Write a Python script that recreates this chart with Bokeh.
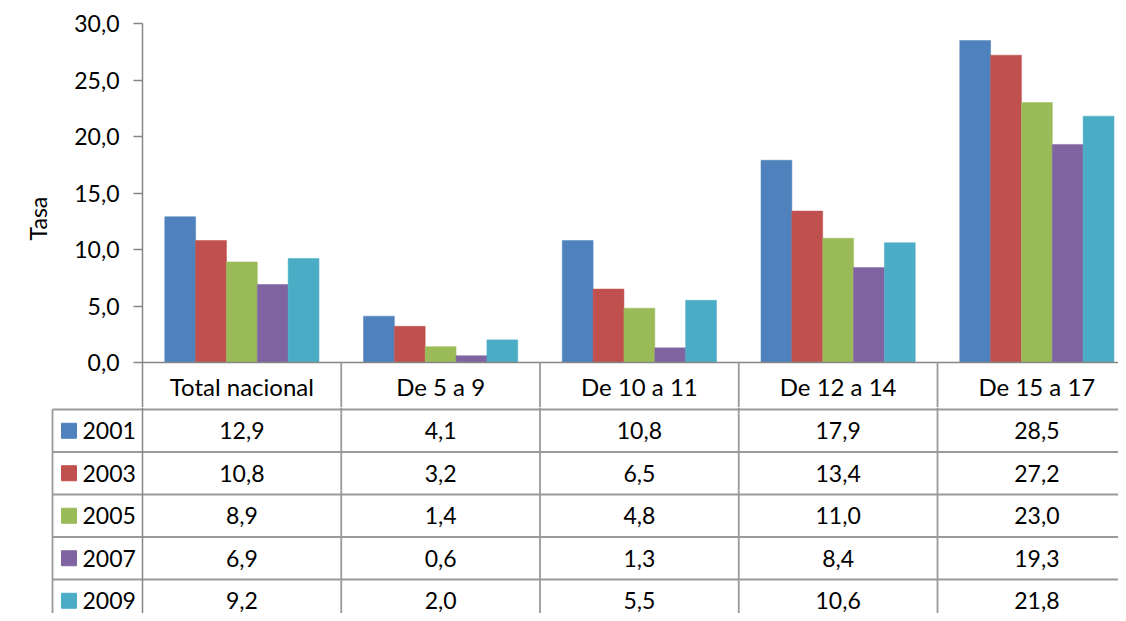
import numpy as np
from bokeh.plotting import figure
from bokeh.models import Range1d, FixedTicker, CustomJSTickFormatter, Title
from bokeh.layouts import column
from bokeh.core.properties import value
from bokeh.embed import file_html
from bokeh.resources import INLINE

categories = ["Total nacional", "De 5 a 9", "De 10 a 11", "De 12 a 14", "De 15 a 17"]
years = ["2001", "2003", "2005", "2007", "2009"]
v2001 = [12.9, 4.1, 10.8, 17.9, 28.5]
v2003 = [10.8, 3.2, 6.5, 13.4, 27.2]
v2005 = [8.9, 1.4, 4.8, 11.0, 23.0]
v2007 = [6.9, 0.6, 1.3, 8.4, 19.3]
v2009 = [9.2, 2.0, 5.5, 10.6, 21.8]
series = [v2001, v2003, v2005, v2007, v2009]
colors = ["#4F81BD", "#C0504D", "#9BBB59", "#8064A2", "#4BACC6"]
y_ticks = [0, 5, 10, 15, 20, 25, 30]

FONT = "Lato"
FS = "23px"
FS_HDR = "24px"
W, H = 1118, 613
LEFT_PX = 142          # frame left (px)
TOP_PX = 23            # frame top (px)
ZERO_PX = 362          # y of value 0 (px)
HDR = 47               # header row height (px)
ROW = 42.5             # data row height (px)
EXT_PX = HDR - 2       # top figure extends this far below zero (holds the header row)
CAT_PX = 198.75        # width of one category (px)
X_END = (W - LEFT_PX) / CAT_PX
PX = 30 / (ZERO_PX - TOP_PX)   # data units per px
GRID = "#9a9a9a"
AXIS = "#868686"
LW = 1.8

H1 = ZERO_PX + EXT_PX
H2 = H - H1

# ---------------- top: bar chart + header row ----------------
p = figure(width=W, height=H1, x_range=Range1d(0, X_END), y_range=Range1d(-EXT_PX * PX, 30),
           x_axis_type=None, output_backend="svg", toolbar_location=None, frame_align=False,
           min_border_left=LEFT_PX, min_border_right=0, min_border_top=TOP_PX, min_border_bottom=0)
p.outline_line_color = None
p.grid.visible = False

ncat = len(categories)
nser = len(series)
pad = 0.112
bw = (1 - 2 * pad) / nser
idx = np.arange(ncat)
for k, (vals, col) in enumerate(zip(series, colors)):
    xs = idx + pad + (k + 0.5) * bw
    p.vbar(x=xs, top=vals, width=bw, bottom=0, fill_color=col, line_color=col, line_width=0.5)

# x axis line and header separators
p.segment(x0=[0], y0=[0], x1=[X_END], y1=[0], line_color=AXIS, line_width=1.5)
vx = list(range(1, ncat + 1))
p.segment(x0=vx, y0=[0] * len(vx), x1=vx, y1=[-EXT_PX * PX] * len(vx), line_color=GRID, line_width=LW)

# header labels
p.text(x=idx + 0.5, y=[-(HDR / 2) * PX] * ncat, text=categories, text_font=value(FONT),
       text_font_size=FS_HDR, text_align="center", text_baseline="middle", text_color="black")

ya = p.yaxis[0]
ya.ticker = FixedTicker(ticks=y_ticks)
ya.formatter = CustomJSTickFormatter(code="return tick.toFixed(1).replace('.', ',');")
ya.major_label_text_font = FONT
ya.major_label_text_font_size = FS
ya.major_label_text_color = "black"
ya.major_label_standoff = 14
ya.axis_line_color = AXIS
ya.axis_line_width = 1.5
ya.major_tick_line_color = AXIS
ya.major_tick_line_width = 1.5
ya.major_tick_out = 9
ya.major_tick_in = 0
ya.minor_tick_line_color = None

p.add_layout(Title(text="Tasa", align="left", offset=H1 - 240, standoff=40,
                   text_font=FONT, text_font_size=FS, text_font_style="normal", text_color="black"),
             "left")

# ---------------- bottom: data rows ----------------
LEG_LEFT = (52 - LEFT_PX) / CAT_PX
t = figure(width=W, height=H2, x_range=Range1d(-LEFT_PX / CAT_PX, X_END),
           y_range=Range1d(-(H - ZERO_PX), -EXT_PX),
           x_axis_type=None, y_axis_type=None, output_backend="svg", toolbar_location=None,
           frame_align=False, min_border_left=0, min_border_right=0, min_border_top=0, min_border_bottom=0)
t.outline_line_color = None
t.grid.visible = False
top = -EXT_PX
bottom = -(H - ZERO_PX) - 5

# horizontal row lines
row_tops = [-(HDR + r * ROW) for r in range(nser + 1)]
t.segment(x0=[LEG_LEFT] * len(row_tops), y0=row_tops, x1=[X_END] * len(row_tops), y1=row_tops,
          line_color=GRID, line_width=LW)
# vertical lines (y axis continuation + category separators)
t.segment(x0=[0], y0=[top], x1=[0], y1=[bottom], line_color=AXIS, line_width=1.5)
t.segment(x0=vx, y0=[top] * len(vx), x1=vx, y1=[bottom] * len(vx), line_color=GRID, line_width=LW)
# left border of the legend column
t.segment(x0=[LEG_LEFT], y0=[-HDR], x1=[LEG_LEFT], y1=[bottom], line_color=GRID, line_width=LW)

# values
for r, vals in enumerate(series):
    yc = -(HDR + (r + 0.5) * ROW)
    t.text(x=idx + 0.5, y=[yc] * ncat, text=[f"{v:.1f}".replace(".", ",") for v in vals],
           text_font=value(FONT), text_font_size=FS, text_align="center", text_baseline="middle",
           text_color="black")

# legend keys and years
ry = [-(HDR + (r + 0.5) * ROW) for r in range(nser)]
t.scatter(x=[(68.5 - LEFT_PX) / CAT_PX] * nser, y=ry, marker="square", size=15,
          fill_color=colors, line_color=colors)
t.text(x=[(82 - LEFT_PX) / CAT_PX] * nser, y=ry, text=years, text_font=value(FONT), text_font_size=FS,
       text_align="left", text_baseline="middle", text_color="black")

layout = column(p, t, spacing=0)
open("out.html", "w").write(file_html(layout, INLINE))
